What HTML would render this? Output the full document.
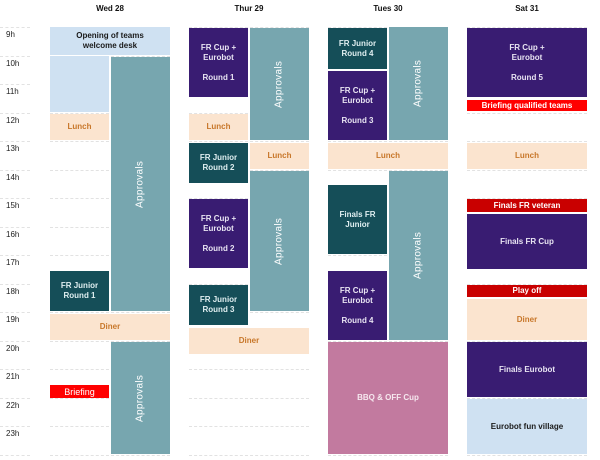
<!DOCTYPE html>
<html><head><meta charset="utf-8"><style>
body{margin:0;width:600px;height:460px;background:#fff;position:relative;overflow:hidden;font-family:"Liberation Sans",sans-serif;}
.b{position:absolute;display:flex;align-items:center;justify-content:center;text-align:center;font-size:8px;font-weight:bold;line-height:10px;box-sizing:border-box;}
.p{background:#391c72;color:#e8e4f2;}
.t{background:#154e58;color:#dfeef0;}
.a{background:#77a6af;color:#fff;}
.l{background:#fbe4cf;color:#c8772a;}
.lb{background:#cfe1f2;color:#1a1a1a;}
.r{background:#ff0000;color:#fff;}
.dr{background:#c90000;color:#fff;}
.v{writing-mode:vertical-rl;transform:rotate(180deg);font-size:10px;font-weight:normal;letter-spacing:0.3px;}
.h{position:absolute;left:6px;font-size:8px;color:#222;}
.hd{position:absolute;top:4px;font-size:8px;font-weight:bold;color:#111;width:120px;text-align:center;}
.g{position:absolute;height:0;border-top:1px dashed #e2e2e2;}
</style></head><body>
<div class="hd" style="left:50px">Wed 28</div>
<div class="hd" style="left:189px">Thur 29</div>
<div class="hd" style="left:328px">Tues 30</div>
<div class="hd" style="left:467px">Sat 31</div>

<div id="grid"></div>
<script>
var g=document.getElementById('grid'),s='';
for(var i=0;i<=15;i++){var y=Math.round(27+i*28.5);
 s+='<div class="g" style="left:0;width:30px;top:'+y+'px"></div>';
 [50,189,328,467].forEach(function(x){s+='<div class="g" style="left:'+x+'px;width:120px;top:'+y+'px"></div>';});
 if(i<15)s+='<div class="h" style="top:'+(y+3)+'px">'+(9+i)+'h</div>';}
g.innerHTML=s;
</script>

<!-- Wed -->
<div class="b lb" style="left:50px;top:27px;width:120px;height:28px;">Opening of teams<br>welcome desk</div>
<div class="b lb" style="left:50px;top:56px;width:59px;height:56px;"></div>
<div class="b a v" style="left:111px;top:57px;width:59px;height:254px;">Approvals</div>
<div class="b l" style="left:50px;top:114px;width:59px;height:26px;">Lunch</div>
<div class="b t" style="left:50px;top:271px;width:59px;height:40px;">FR Junior<br>Round 1</div>
<div class="b l" style="left:50px;top:314px;width:120px;height:26px;">Diner</div>
<div class="b a v" style="left:111px;top:342px;width:59px;height:112px;">Approvals</div>
<div class="b r" style="left:50px;top:385px;width:59px;height:13px;font-size:9px;font-weight:normal;">Briefing</div>

<!-- Thur -->
<div class="b p" style="left:189px;top:28px;width:59px;height:69px;">FR Cup +<br>Eurobot<br><br>Round 1</div>
<div class="b a v" style="left:250px;top:28px;width:59px;height:112px;">Approvals</div>
<div class="b l" style="left:189px;top:114px;width:59px;height:26px;">Lunch</div>
<div class="b t" style="left:189px;top:143px;width:59px;height:40px;">FR Junior<br>Round 2</div>
<div class="b l" style="left:250px;top:143px;width:59px;height:26px;">Lunch</div>
<div class="b a v" style="left:250px;top:171px;width:59px;height:140px;">Approvals</div>
<div class="b p" style="left:189px;top:199px;width:59px;height:69px;">FR Cup +<br>Eurobot<br><br>Round 2</div>
<div class="b t" style="left:189px;top:285px;width:59px;height:40px;">FR Junior<br>Round 3</div>
<div class="b l" style="left:189px;top:328px;width:120px;height:26px;">Diner</div>

<!-- Tues -->
<div class="b t" style="left:328px;top:28px;width:59px;height:41px;">FR Junior<br>Round 4</div>
<div class="b p" style="left:328px;top:71px;width:59px;height:69px;">FR Cup +<br>Eurobot<br><br>Round 3</div>
<div class="b a v" style="left:389px;top:27px;width:59px;height:113px;">Approvals</div>
<div class="b l" style="left:328px;top:143px;width:120px;height:26px;">Lunch</div>
<div class="b a v" style="left:389px;top:171px;width:59px;height:169px;">Approvals</div>
<div class="b t" style="left:328px;top:185px;width:59px;height:69px;">Finals FR<br>Junior</div>
<div class="b p" style="left:328px;top:271px;width:59px;height:69px;">FR Cup +<br>Eurobot<br><br>Round 4</div>
<div class="b" style="left:328px;top:342px;width:120px;height:112px;background:#c27a9f;color:#f6e8ef;">BBQ &amp; OFF Cup</div>

<!-- Sat -->
<div class="b p" style="left:467px;top:28px;width:120px;height:69px;">FR Cup +<br>Eurobot<br><br>Round 5</div>
<div class="b r" style="left:467px;top:100px;width:120px;height:11px;">Briefing qualified teams</div>
<div class="b l" style="left:467px;top:143px;width:120px;height:26px;">Lunch</div>
<div class="b dr" style="left:467px;top:199px;width:120px;height:13px;">Finals FR veteran</div>
<div class="b p" style="left:467px;top:214px;width:120px;height:55px;">Finals FR Cup</div>
<div class="b dr" style="left:467px;top:285px;width:120px;height:12px;">Play off</div>
<div class="b l" style="left:467px;top:299px;width:120px;height:41px;">Diner</div>
<div class="b p" style="left:467px;top:342px;width:120px;height:55px;">Finals Eurobot</div>
<div class="b lb" style="left:467px;top:399px;width:120px;height:55px;">Eurobot fun village</div>
</body></html>
